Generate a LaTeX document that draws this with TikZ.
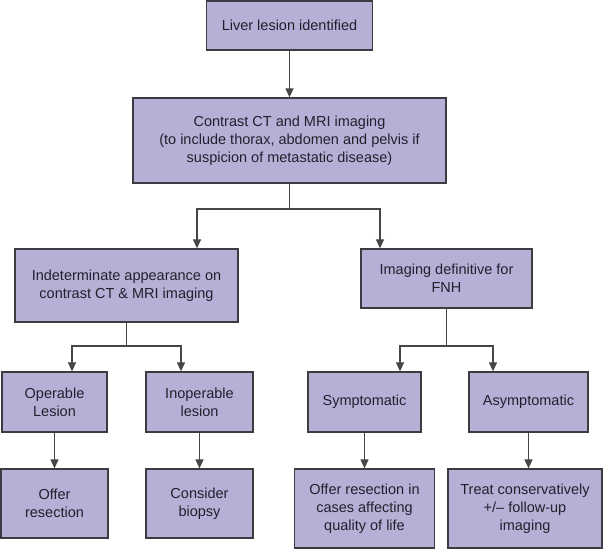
\documentclass[tikz,border=0pt]{standalone}
\usepackage{fontspec}
\setmainfont{Liberation Sans}
\usetikzlibrary{arrows.meta}
\definecolor{boxfill}{RGB}{181,176,214}
\definecolor{boxline}{RGB}{60,60,64}
\definecolor{linkcol}{RGB}{70,70,72}
\definecolor{txt}{RGB}{34,32,44}
\tikzset{
  box/.style={draw=boxline, line width=1.3pt, fill=boxfill, text=txt, align=center,
    inner sep=0pt, font=\fontsize{14.5}{17.8}\selectfont},
  link/.style={draw=linkcol, line width=1.2pt},
  arr/.style={link, -{Triangle[length=9pt,width=8pt]}}
}
\begin{document}
\begin{tikzpicture}[x=1pt,y=-1pt]
\useasboundingbox (0,0) rectangle (609,549);
% boxes
\node[box, minimum width=166pt, minimum height=49pt] (b1) at (289.5,25.5) {Liver lesion identified};
\node[box, minimum width=313pt, minimum height=85pt] (b2) at (289.5,140.5) {Contrast CT and MRI imaging\\(to include thorax, abdomen and pelvis if\\suspicion of metastatic disease)};
\node[box, minimum width=223pt, minimum height=73pt] (b3) at (126.5,285.5) {Indeterminate appearance on\\contrast CT \& MRI imaging};
\node[box, minimum width=171pt, minimum height=59pt] (b4) at (446.5,278.5) {Imaging definitive for\\FNH};
\node[box, minimum width=105pt, minimum height=60pt] (b5) at (54.5,402) {Operable\\Lesion};
\node[box, minimum width=107pt, minimum height=60pt] (b6) at (199.5,402) {Inoperable\\lesion};
\node[box, minimum width=113pt, minimum height=60pt] (b7) at (364.5,402) {Symptomatic};
\node[box, minimum width=119pt, minimum height=60pt] (b8) at (528.5,402) {Asymptomatic};
\node[box, minimum width=107pt, minimum height=69pt] (b9) at (54.5,503.5) {Offer\\resection};
\node[box, minimum width=107pt, minimum height=69pt] (b10) at (199.5,503.5) {Consider\\biopsy};
\node[box, minimum width=140pt, minimum height=79pt] (b11) at (364.5,508.5) {Offer resection in\\cases affecting\\quality of life};
\node[box, minimum width=154pt, minimum height=79pt] (b12) at (525,508.5) {Treat conservatively\\+/\textendash{} follow-up\\imaging};
% junction coordinates
\coordinate (j1) at (289.5,209);
\coordinate (x3) at (197,0);
\coordinate (x4) at (380,0);
\coordinate (j2) at (126.5,346);
\coordinate (x5) at (72,0);
\coordinate (x6) at (181,0);
\coordinate (j3) at (446.5,346);
\coordinate (x7) at (400,0);
\coordinate (x8) at (493,0);
% connectors
\draw[arr] (b1) -- (b2);
\draw[link] (b2.south) -- (j1);
\draw[arr] (j1) -| (b3.north -| x3);
\draw[arr] (j1) -| (b4.north -| x4);
\draw[link] (b3.south) -- (j2);
\draw[arr] (j2) -| (b5.north -| x5);
\draw[arr] (j2) -| (b6.north -| x6);
\draw[link] (b4.south) -- (j3);
\draw[arr] (j3) -| (b7.north -| x7);
\draw[arr] (j3) -| (b8.north -| x8);
\draw[arr] (b5.south) -- (b5.south |- b9.north);
\draw[arr] (b6.south) -- (b6.south |- b10.north);
\draw[arr] (b7.south) -- (b7.south |- b11.north);
\draw[arr] (b8.south) -- (b8.south |- b12.north);
\end{tikzpicture}
\end{document}
